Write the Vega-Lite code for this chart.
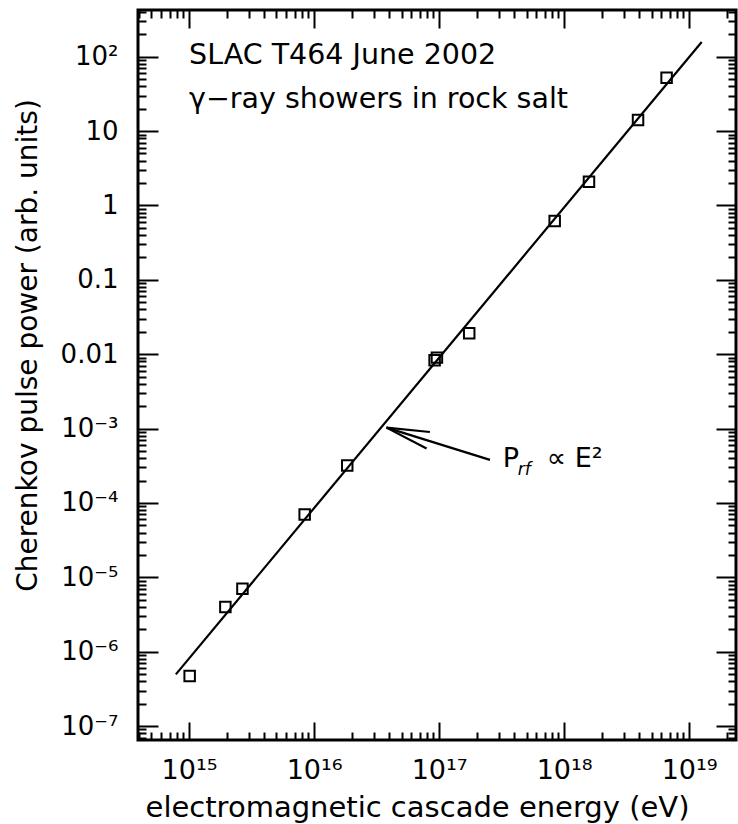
{
  "$schema": "https://vega.github.io/schema/vega-lite/v6.json",
  "width": 598,
  "height": 730,
  "autosize": {"type": "none"},
  "padding": {"left": 138, "top": 10, "right": 2, "bottom": 84},
  "background": "white",
  "config": {
    "view": {"stroke": "black", "strokeWidth": 3},
    "font": "DejaVu Sans",
    "axis": {
      "domain": false,
      "grid": false,
      "tickColor": "black",
      "tickWidth": 2,
      "labelColor": "black",
      "titleColor": "black",
      "labelFont": "DejaVu Sans",
      "titleFont": "DejaVu Sans",
      "titleFontWeight": "normal"
    }
  },
  "datasets": {
    "fit": [
      {"E": 7.83e14, "P": 4.96e-7},
      {"E": 1.26e19, "P": 158}
    ],
    "showers": [
      {"E": 1.01e15, "P": 4.7e-7},
      {"E": 1.95e15, "P": 4.0e-6},
      {"E": 2.67e15, "P": 7.0e-6},
      {"E": 8.4e15, "P": 7.0e-5},
      {"E": 1.84e16, "P": 3.2e-4},
      {"E": 9.2e16, "P": 0.0083},
      {"E": 9.6e16, "P": 0.009},
      {"E": 1.74e17, "P": 0.0191},
      {"E": 8.4e17, "P": 0.62},
      {"E": 1.58e18, "P": 2.08},
      {"E": 3.9e18, "P": 14.1},
      {"E": 6.6e18, "P": 52}
    ],
    "arrow": [
      {"seg": "shaft", "E": 2.55e17, "P": 3.8e-4},
      {"seg": "shaft", "E": 3.79e16, "P": 1.03e-3},
      {"seg": "barb1", "E": 8.43e16, "P": 9.0e-4},
      {"seg": "barb1", "E": 3.79e16, "P": 1.03e-3},
      {"seg": "barb2", "E": 7.93e16, "P": 5.4e-4},
      {"seg": "barb2", "E": 3.79e16, "P": 1.03e-3}
    ]
  },
  "resolve": {"axis": {"x": "independent", "y": "independent"}},
  "layer": [
    {
      "data": {"name": "fit"},
      "mark": {"type": "line", "color": "black", "strokeWidth": 2.2},
      "encoding": {
        "x": {
          "field": "E", "type": "quantitative",
          "scale": {"type": "log", "domain": [3.9e14, 2.37e19], "nice": false},
          "axis": {
            "orient": "bottom",
            "values": [1e15, 1e16, 1e17, 1e18, 1e19],
            "ticks": false,
            "labelExpr": "datum.value < 3e15 ? '10¹⁵' : datum.value < 3e16 ? '10¹⁶' : datum.value < 3e17 ? '10¹⁷' : datum.value < 3e18 ? '10¹⁸' : '10¹⁹'",
            "labelFontSize": 27,
            "labelPadding": 38,
            "labelBaseline": "alphabetic",
            "labelFlush": false,
            "labelOverlap": false,
            "title": "electromagnetic cascade energy (eV)",
            "titleFontSize": 29,
            "titleX": 279,
            "titleY": 76,
            "titleBaseline": "alphabetic",
            "titleAlign": "center"
          }
        },
        "y": {
          "field": "P", "type": "quantitative",
          "scale": {"type": "log", "domain": [6.5e-8, 425], "nice": false},
          "axis": {
            "orient": "left",
            "values": [1e-7, 1e-6, 1e-5, 1e-4, 1e-3, 0.01, 0.1, 1, 10, 100],
            "ticks": false,
            "labelExpr": "datum.value < 3e-7 ? '10⁻⁷' : datum.value < 3e-6 ? '10⁻⁶' : datum.value < 3e-5 ? '10⁻⁵' : datum.value < 3e-4 ? '10⁻⁴' : datum.value < 3e-3 ? '10⁻³' : datum.value < 0.03 ? '0.01' : datum.value < 0.3 ? '0.1' : datum.value < 3 ? '1' : datum.value < 30 ? '10' : '10²'",
            "labelFontSize": 26,
            "labelPadding": 20,
            "labelBaseline": "middle",
            "labelFlush": false,
            "labelOverlap": false,
            "title": "Cherenkov pulse power (arb. units)",
            "titleFontSize": 28,
            "titleAngle": -90,
            "titleX": -102,
            "titleY": 335,
            "titleBaseline": "alphabetic",
            "titleAlign": "center"
          }
        }
      }
    },
    {
      "data": {"name": "showers"},
      "mark": {"type": "point", "shape": "square", "filled": false, "size": 110, "strokeWidth": 2, "color": "black", "opacity": 1},
      "encoding": {
        "x": {
          "field": "E", "type": "quantitative",
          "scale": {"type": "log", "domain": [3.9e14, 2.37e19], "nice": false},
          "axis": {"orient": "bottom", "values": [1e15, 1e16, 1e17, 1e18, 1e19], "labels": false, "tickSize": -18, "title": null}
        },
        "y": {
          "field": "P", "type": "quantitative",
          "scale": {"type": "log", "domain": [6.5e-8, 425], "nice": false},
          "axis": {"orient": "left", "values": [1e-7, 1e-6, 1e-5, 1e-4, 1e-3, 0.01, 0.1, 1, 10, 100], "labels": false, "tickSize": -20, "title": null}
        }
      }
    },
    {
      "data": {"name": "arrow"},
      "mark": {"type": "line", "color": "black", "strokeWidth": 2.2},
      "encoding": {
        "detail": {"field": "seg"},
        "x": {
          "field": "E", "type": "quantitative",
          "scale": {"type": "log", "domain": [3.9e14, 2.37e19], "nice": false},
          "axis": {
            "orient": "bottom",
            "values": [4e14, 5e14, 6e14, 7e14, 8e14, 9e14, 2e15, 3e15, 4e15, 5e15, 6e15, 7e15, 8e15, 9e15, 2e16, 3e16, 4e16, 5e16, 6e16, 7e16, 8e16, 9e16, 2e17, 3e17, 4e17, 5e17, 6e17, 7e17, 8e17, 9e17, 2e18, 3e18, 4e18, 5e18, 6e18, 7e18, 8e18, 9e18, 2e19],
            "labels": false, "tickSize": -8, "title": null
          }
        },
        "y": {
          "field": "P", "type": "quantitative",
          "scale": {"type": "log", "domain": [6.5e-8, 425], "nice": false},
          "axis": {
            "orient": "left",
            "values": [7e-8, 8e-8, 9e-8, 2e-7, 3e-7, 4e-7, 5e-7, 6e-7, 7e-7, 8e-7, 9e-7, 2e-6, 3e-6, 4e-6, 5e-6, 6e-6, 7e-6, 8e-6, 9e-6, 2e-5, 3e-5, 4e-5, 5e-5, 6e-5, 7e-5, 8e-5, 9e-5, 2e-4, 3e-4, 4e-4, 5e-4, 6e-4, 7e-4, 8e-4, 9e-4, 0.002, 0.003, 0.004, 0.005, 0.006, 0.007, 0.008, 0.009, 0.02, 0.03, 0.04, 0.05, 0.06, 0.07, 0.08, 0.09, 0.2, 0.3, 0.4, 0.5, 0.6, 0.7, 0.8, 0.9, 2, 3, 4, 5, 6, 7, 8, 9, 20, 30, 40, 50, 60, 70, 80, 90, 200, 300, 400],
            "labels": false, "tickSize": -8, "title": null
          }
        }
      }
    },
    {
      "data": {"values": [{}]},
      "mark": {"type": "text", "text": "SLAC T464 June 2002", "align": "left", "baseline": "alphabetic", "fontSize": 28.5, "font": "DejaVu Sans", "color": "black"},
      "encoding": {
        "x": {
          "datum": 1e15, "type": "quantitative",
          "scale": {"type": "log", "domain": [3.9e14, 2.37e19], "nice": false},
          "axis": {"orient": "top", "values": [1e15, 1e16, 1e17, 1e18, 1e19], "labels": false, "tickSize": -18, "title": null}
        },
        "y": {
          "datum": 80, "type": "quantitative",
          "scale": {"type": "log", "domain": [6.5e-8, 425], "nice": false},
          "axis": {"orient": "right", "values": [1e-7, 1e-6, 1e-5, 1e-4, 1e-3, 0.01, 0.1, 1, 10, 100], "labels": false, "tickSize": -20, "title": null}
        }
      }
    },
    {
      "data": {"values": [{}]},
      "mark": {"type": "text", "text": "γ−ray showers in rock salt", "align": "left", "baseline": "alphabetic", "fontSize": 28.5, "font": "DejaVu Sans", "color": "black"},
      "encoding": {
        "x": {
          "datum": 1e15, "type": "quantitative",
          "scale": {"type": "log", "domain": [3.9e14, 2.37e19], "nice": false},
          "axis": {
            "orient": "top",
            "values": [4e14, 5e14, 6e14, 7e14, 8e14, 9e14, 2e15, 3e15, 4e15, 5e15, 6e15, 7e15, 8e15, 9e15, 2e16, 3e16, 4e16, 5e16, 6e16, 7e16, 8e16, 9e16, 2e17, 3e17, 4e17, 5e17, 6e17, 7e17, 8e17, 9e17, 2e18, 3e18, 4e18, 5e18, 6e18, 7e18, 8e18, 9e18, 2e19],
            "labels": false, "tickSize": -8, "title": null
          }
        },
        "y": {
          "datum": 20.4, "type": "quantitative",
          "scale": {"type": "log", "domain": [6.5e-8, 425], "nice": false},
          "axis": {
            "orient": "right",
            "values": [7e-8, 8e-8, 9e-8, 2e-7, 3e-7, 4e-7, 5e-7, 6e-7, 7e-7, 8e-7, 9e-7, 2e-6, 3e-6, 4e-6, 5e-6, 6e-6, 7e-6, 8e-6, 9e-6, 2e-5, 3e-5, 4e-5, 5e-5, 6e-5, 7e-5, 8e-5, 9e-5, 2e-4, 3e-4, 4e-4, 5e-4, 6e-4, 7e-4, 8e-4, 9e-4, 0.002, 0.003, 0.004, 0.005, 0.006, 0.007, 0.008, 0.009, 0.02, 0.03, 0.04, 0.05, 0.06, 0.07, 0.08, 0.09, 0.2, 0.3, 0.4, 0.5, 0.6, 0.7, 0.8, 0.9, 2, 3, 4, 5, 6, 7, 8, 9, 20, 30, 40, 50, 60, 70, 80, 90, 200, 300, 400],
            "labels": false, "tickSize": -8, "title": null
          }
        }
      }
    },
    {
      "data": {"values": [{}]},
      "mark": {"type": "text", "text": "P", "align": "left", "baseline": "alphabetic", "fontSize": 27, "font": "DejaVu Sans", "color": "black"},
      "encoding": {
        "x": {"datum": 3.23e17, "type": "quantitative", "scale": {"type": "log", "domain": [3.9e14, 2.37e19], "nice": false}, "axis": null},
        "y": {"datum": 3.05e-4, "type": "quantitative", "scale": {"type": "log", "domain": [6.5e-8, 425], "nice": false}, "axis": null}
      }
    },
    {
      "data": {"values": [{}]},
      "mark": {"type": "text", "text": "rf", "align": "left", "baseline": "alphabetic", "fontSize": 17, "fontStyle": "italic", "font": "DejaVu Sans", "color": "black", "dx": 15, "dy": 8},
      "encoding": {
        "x": {"datum": 3.23e17, "type": "quantitative", "scale": {"type": "log", "domain": [3.9e14, 2.37e19], "nice": false}, "axis": null},
        "y": {"datum": 3.05e-4, "type": "quantitative", "scale": {"type": "log", "domain": [6.5e-8, 425], "nice": false}, "axis": null}
      }
    },
    {
      "data": {"values": [{}]},
      "mark": {"type": "text", "text": "∝ E²", "align": "left", "baseline": "alphabetic", "fontSize": 27, "font": "DejaVu Sans", "color": "black", "dx": 44},
      "encoding": {
        "x": {"datum": 3.23e17, "type": "quantitative", "scale": {"type": "log", "domain": [3.9e14, 2.37e19], "nice": false}, "axis": null},
        "y": {"datum": 3.05e-4, "type": "quantitative", "scale": {"type": "log", "domain": [6.5e-8, 425], "nice": false}, "axis": null}
      }
    }
  ]
}
